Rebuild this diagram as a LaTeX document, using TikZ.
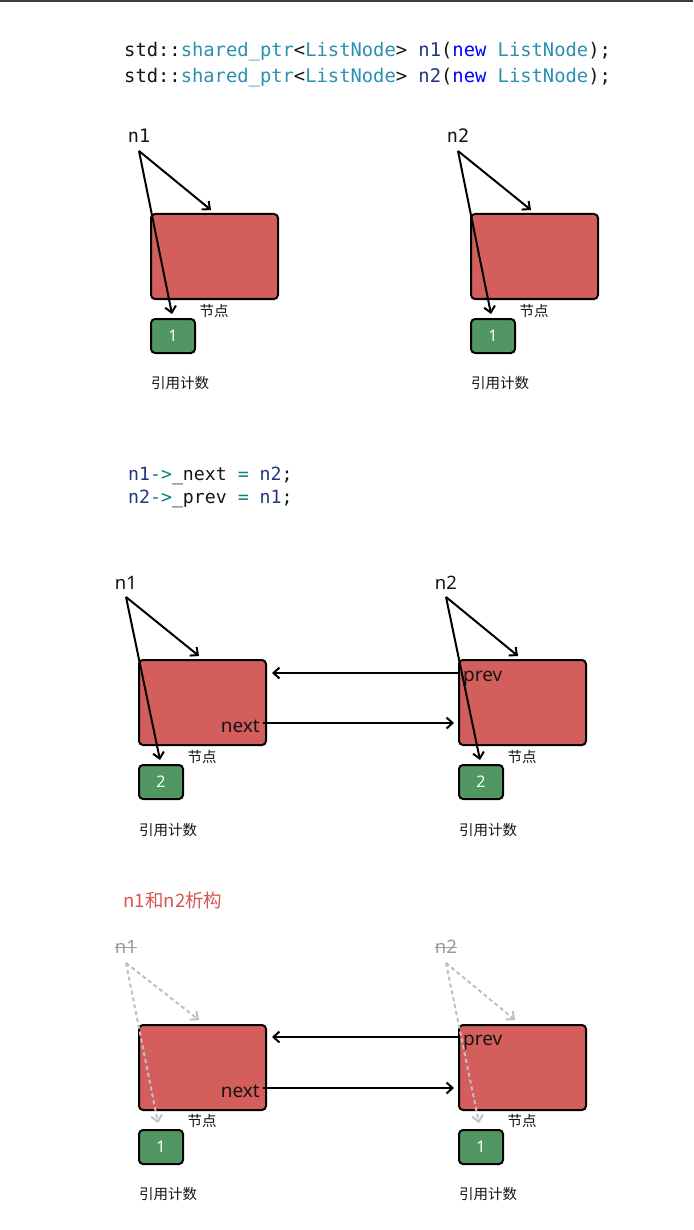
\documentclass[tikz,border=0pt]{standalone}
\usepackage{fontspec}
\setmainfont{Noto Sans}
\newfontfamily\cjk{Noto Sans CJK SC}
\newfontfamily\codefont{DejaVu Sans Mono}
\usetikzlibrary{arrows.meta}
\definecolor{nodered}{RGB}{212,94,91}
\definecolor{nodegreen}{RGB}{82,150,99}
\definecolor{typeteal}{RGB}{43,145,175}
\definecolor{varnavy}{RGB}{31,55,127}
\definecolor{kwblue}{RGB}{0,0,255}
\definecolor{opteal}{RGB}{0,128,128}
\definecolor{titlered}{RGB}{215,85,80}
\definecolor{fadegray}{RGB}{150,156,162}
\definecolor{dashgray}{RGB}{190,192,196}
\definecolor{topbar}{RGB}{60,60,60}
\definecolor{ink}{RGB}{20,20,20}
\tikzset{
  redbox/.style={draw=black, line width=2pt, rounded corners=4pt, fill=nodered,
    minimum width=127pt, minimum height=85pt, inner sep=0pt, anchor=north west},
  greenbox/.style={draw=black, line width=2pt, rounded corners=4pt, fill=nodegreen,
    minimum width=44pt, minimum height=34pt, inner sep=0pt, anchor=north west,
    text=white, font=\fontsize{16}{18}\selectfont},
  cjklbl/.style={inner sep=0pt, text=ink, font=\cjk\fontsize{14.5}{16}\selectfont},
  ptrlbl/.style={inner sep=0pt, anchor=base, text=ink, font=\fontsize{18.5}{20}\selectfont},
  monolbl/.style={inner sep=0pt, anchor=base, text=ink, font=\codefont\fontsize{18.5}{20}\selectfont},
  fieldlbl/.style={inner sep=0pt, text=ink, font=\fontsize{19}{20}\selectfont},
  codeline/.style={inner sep=0pt, anchor=base west},
  arr/.style={draw=black, line width=2pt, -{Straight Barb[length=6pt,width=11pt]}},
  darr/.style={draw=dashgray, line width=2pt, dash pattern=on 4pt off 3pt,
    -{Straight Barb[length=6pt,width=11pt]}},
}
\begin{document}
\begin{tikzpicture}[x=1pt,y=-1pt]
\useasboundingbox (0,0) rectangle (693,1230);
\fill[topbar] (0,0) rectangle (693,2);

% ---------- section 1 code ----------
\node[codeline] (code1) at (124,57) {\codefont\fontsize{18.8}{20}\selectfont
  \color{ink}std::\color{typeteal}shared\_ptr\color{ink}<\color{typeteal}ListNode\color{ink}> \color{varnavy}n1\color{ink}(\color{kwblue}new \color{typeteal}ListNode\color{ink});};
\node[codeline] (code2) at (124,83) {\codefont\fontsize{18.8}{20}\selectfont
  \color{ink}std::\color{typeteal}shared\_ptr\color{ink}<\color{typeteal}ListNode\color{ink}> \color{varnavy}n2\color{ink}(\color{kwblue}new \color{typeteal}ListNode\color{ink});};

% ---------- section 1 diagram ----------
\node[monolbl] (p1a) at (139,143) {n1};
\node[redbox] (A1) at (150,213) {};
\node[greenbox] (G1) at (150,318) {1};
\node[cjklbl] (s1) at (214,311) {节点};
\node[cjklbl] (r1) at (180,383) {引用计数};
\draw[arr] ([yshift=-8pt]p1a.base) -- ([xshift=61pt,yshift=3pt]A1.north west);
\draw[arr] ([yshift=-8pt]p1a.base) -- ([xshift=22pt,yshift=4pt]G1.north west);

\node[monolbl] (p2a) at (458,143) {n2};
\node[redbox] (B1) at (470,213) {};
\node[greenbox] (H1) at (470,318) {1};
\node[cjklbl] (s2) at (534,311) {节点};
\node[cjklbl] (r2) at (500,383) {引用计数};
\draw[arr] ([yshift=-8pt]p2a.base) -- ([xshift=61pt,yshift=3pt]B1.north west);
\draw[arr] ([yshift=-8pt]p2a.base) -- ([xshift=21pt,yshift=4pt]H1.north west);

% ---------- section 2 code ----------
\node[codeline] (code3) at (128,480) {\codefont\fontsize{18.2}{20}\selectfont
  \color{varnavy}n1\color{opteal}->\color{ink}\_next \color{opteal}= \color{varnavy}n2\color{ink};};
\node[codeline] (code4) at (128,503) {\codefont\fontsize{18.2}{20}\selectfont
  \color{varnavy}n2\color{opteal}->\color{ink}\_prev \color{opteal}= \color{varnavy}n1\color{ink};};

% ---------- section 3 diagram ----------
\node[ptrlbl] (p1b) at (126,589) {n1};
\node[redbox] (A2) at (138,659) {};
\node[greenbox] (G2) at (138,764) {2};
\node[cjklbl] (s3) at (202,757) {节点};
\node[cjklbl] (r3) at (168,830) {引用计数};
\node[fieldlbl, anchor=base east] (nx2) at (260,732) {next};
\draw[arr] ([yshift=-8pt]p1b.base) -- ([xshift=61pt,yshift=3pt]A2.north west);
\draw[arr] ([yshift=-8pt]p1b.base) -- ([xshift=22pt,yshift=4pt]G2.north west);

\node[ptrlbl] (p2b) at (446,589) {n2};
\node[redbox] (B2) at (458,659) {};
\node[greenbox] (H2) at (458,764) {2};
\node[cjklbl] (s4) at (522,757) {节点};
\node[cjklbl] (r4) at (488,830) {引用计数};
\node[fieldlbl, anchor=base west] (pv2) at (463,681) {prev};
\draw[arr] ([yshift=-8pt]p2b.base) -- ([xshift=60pt,yshift=3pt]B2.north west);
\draw[arr] ([yshift=-8pt]p2b.base) -- ([xshift=22pt,yshift=4pt]H2.north west);

\draw[arr] ([yshift=8pt]pv2.base -| B2.west) -- ([xshift=5pt,yshift=8pt]pv2.base -| A2.east);
\draw[arr] ([xshift=3pt,yshift=9pt]nx2.base east) -- ([xshift=-4pt,yshift=9pt]nx2.base east -| B2.west);

% ---------- section 4 ----------
\node[inner sep=0pt, text=titlered, font=\cjk\fontsize{18.5}{20}\selectfont] (title) at (173,900) {n1和n2析构};

\node[ptrlbl, text=fadegray] (p1c) at (126,953) {n1};
\draw[fadegray, line width=1pt] ([yshift=5.5pt]p1c.base west) -- ([yshift=5.5pt]p1c.base east);
\node[redbox] (A3) at (138,1024) {};
\node[greenbox] (G3) at (138,1129) {1};
\node[cjklbl] (s5) at (202,1121) {节点};
\node[cjklbl] (r5) at (168,1194) {引用计数};
\node[fieldlbl, anchor=base east] (nx3) at (260,1097) {next};
\draw[darr] ([yshift=-10pt]p1c.base) -- ([xshift=61pt,yshift=4pt]A3.north west);
\draw[darr] ([yshift=-10pt]p1c.base) -- ([xshift=20pt,yshift=6pt]G3.north west);

\node[ptrlbl, text=fadegray] (p2c) at (446,953) {n2};
\draw[fadegray, line width=1pt] ([yshift=5.5pt]p2c.base west) -- ([yshift=5.5pt]p2c.base east);
\node[redbox] (B3) at (458,1024) {};
\node[greenbox] (H3) at (458,1129) {1};
\node[cjklbl] (s6) at (522,1121) {节点};
\node[cjklbl] (r6) at (488,1194) {引用计数};
\node[fieldlbl, anchor=base west] (pv3) at (463,1045) {prev};
\draw[darr] ([yshift=-10pt]p2c.base) -- ([xshift=57pt,yshift=4pt]B3.north west);
\draw[darr] ([yshift=-10pt]p2c.base) -- ([xshift=21pt,yshift=6pt]H3.north west);

\draw[arr] ([yshift=8pt]pv3.base -| B3.west) -- ([xshift=5pt,yshift=8pt]pv3.base -| A3.east);
\draw[arr] ([xshift=3pt,yshift=9pt]nx3.base east) -- ([xshift=-4pt,yshift=9pt]nx3.base east -| B3.west);
\end{tikzpicture}
\end{document}
